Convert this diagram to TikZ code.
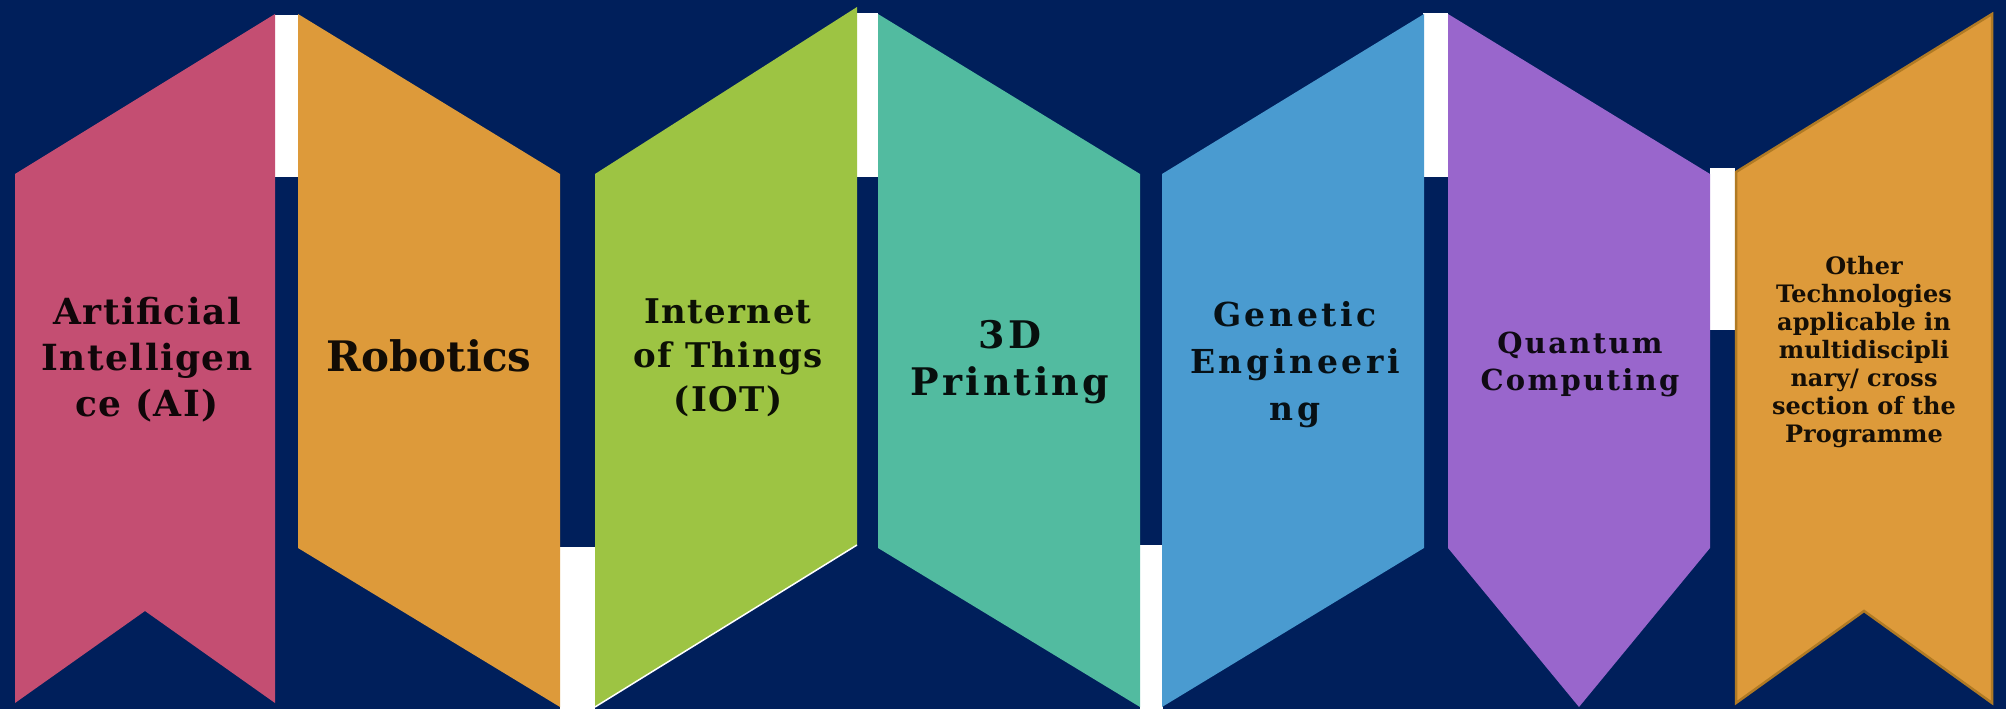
\documentclass[tikz,border=0pt]{standalone}
\usepackage{fontspec}
\setmainfont{DejaVu Serif}

\definecolor{navy}{RGB}{0,31,91}
\definecolor{aipink}{RGB}{196,78,114}
\definecolor{robo}{RGB}{221,154,58}
\definecolor{iot}{RGB}{157,196,67}
\definecolor{print}{RGB}{82,187,160}
\definecolor{gene}{RGB}{74,155,208}
\definecolor{quant}{RGB}{153,102,204}
\definecolor{otheredge}{RGB}{176,122,36}

\tikzset{
  band/.style={line join=miter},
  lbl/.style={align=center, inner sep=0pt},
}

% bold label font: size, line skip, letter spacing
\newcommand{\lblfont}[3]{\fontsize{#1}{#2}\selectfont\bfseries\addfontfeatures{LetterSpace=#3}}

\begin{document}
\begin{tikzpicture}[x=1pt,y=-1pt]

				% geometry
				\def\yt{14}   % peaks
				\def\ys{174}  % top shoulders
				\def\yb{548}  % bottom shoulders
				\def\ye{707}  % bottom ends
				\def\yn{611}  % swallowtail notch
				\def\ym{360}  % text middle

				\useasboundingbox (0,0) rectangle (2006,709);
				\fill[navy] (0,0) rectangle (2006,709);

				% white bars between the bands
				\fill[white] (275,15) rectangle (298,177);
				\fill[white] (560,547) rectangle (595,709);
				\fill[white] (857,13) rectangle (878,177);
				\fill[white] (1140,545) rectangle (1163,709);
				\fill[white] (1423,13) rectangle (1448,177);
				\fill[white] (1710,168) rectangle (1735,330);

				% bands
				\path[band, fill=aipink] (15,\ys) -- (275,\yt) -- (275,703) -- (145,\yn) -- (15,703) -- cycle;
				\path[band, fill=robo] (298,\yt) -- (560,\ys) -- (560,\ye) -- (298,\yb) -- cycle;
				\path[band, fill=iot] (595,\ys) -- (857,7) -- (857,545) -- (595,\ye) -- cycle;
				\draw[white, line width=1.5pt] (857,545) -- (595,\ye);
				\path[band, fill=print] (878,\yt) -- (1140,\ys) -- (1140,\ye) -- (878,\yb) -- cycle;
				\path[band, fill=gene] (1162,\ys) -- (1424,\yt) -- (1424,\yb) -- (1162,\ye) -- cycle;
				\path[band, fill=quant] (1448,\yt) -- (1710,\ys) -- (1710,\yb) -- (1579,\ye) -- (1448,\yb) -- cycle;
				\path[band, fill=robo, draw=otheredge, line width=2.5pt] (1736,172) -- (1992,\yt) -- (1992,703) -- (1864,\yn) -- (1736,703) -- cycle;

				% labels
				\node[lbl, text=aipink!8!black, font=\lblfont{36}{46}{4}] (ai) at (147,\ym) {Artificial\\Intelligen\\ce (AI)};
				\node[lbl, text=robo!8!black, font=\lblfont{42}{50}{0}] (robotics) at (429,356) {Robotics};
				\node[lbl, text=iot!8!black, font=\lblfont{34}{44}{4}] (iotlbl) at (728,358) {Internet\\of Things\\(IOT)};
				\node[lbl, text=print!8!black, font=\lblfont{38}{47}{8}] (printing) at (1010,362) {3D\\Printing};
				\node[lbl, text=gene!10!black, font=\lblfont{33}{47}{11}] (genetic) at (1295,365) {Genetic\\Engineeri\\ng};
				\node[lbl, text=quant!10!black, font=\lblfont{29}{37}{8}] (quantum) at (1580,364) {Quantum\\Computing};
				\node[lbl, text=robo!10!black, font=\lblfont{24}{28}{0}] (other) at (1864,352) {Other\\Technologies\\applicable in\\multidiscipli\\nary/ cross\\section of the\\Programme};

\end{tikzpicture}
\end{document}
